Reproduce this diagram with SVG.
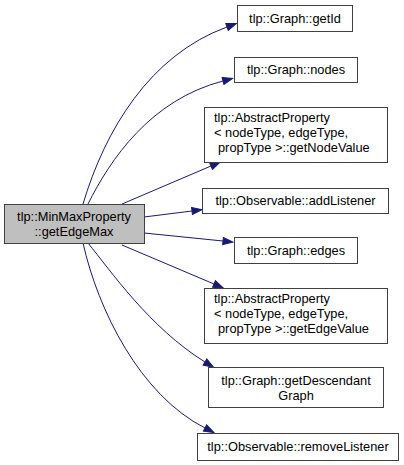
<svg xmlns="http://www.w3.org/2000/svg" width="404" height="465" viewBox="0 0 404 465">
<style>
.box{fill:#ffffff;stroke:#404040;stroke-width:1}
.main{fill:#bfbfbf;stroke:#404040;stroke-width:1}
.t{font-family:"Liberation Sans",Arial,Helvetica,sans-serif;font-size:12.8px;fill:#000000}
.c{text-anchor:middle}
.e{fill:none;stroke:#191970;stroke-width:1}
</style>
<defs>
<marker id="arr" markerUnits="userSpaceOnUse" markerWidth="12" markerHeight="10" refX="0" refY="0" viewBox="0 -5 12 10" orient="auto" overflow="visible">
<path d="M0,-3.6 L10,0 L0,3.6 Z" fill="#191970" stroke="#191970" stroke-width="1"/>
</marker>
</defs>
<rect width="404" height="465" fill="#ffffff"/>
<g id="connectors">
<path class="e" marker-end="url(#arr)" d="M83,204 C105,130 150,55 227,27"/>
<path class="e" marker-end="url(#arr)" d="M88,204 C110,160 150,100 223,81"/>
<path class="e" marker-end="url(#arr)" d="M122,204 L211,166"/>
<path class="e" marker-end="url(#arr)" d="M144,217 L192,211"/>
<path class="e" marker-end="url(#arr)" d="M144,233 L223,241"/>
<path class="e" marker-end="url(#arr)" d="M122,245 L214,284"/>
<path class="e" marker-end="url(#arr)" d="M88,243 C110,270 150,328 205,362"/>
<path class="e" marker-end="url(#arr)" d="M83,243 C98,310 140,395 205,428"/>
</g>
<g id="node-main">
<rect class="main" x="4.5" y="204.5" width="140" height="39"/>
<text class="t c" x="74" y="221">tlp::MinMaxProperty</text>
<text class="t c" x="74" y="236">::getEdgeMax</text>
</g>
<g id="node-getId">
<rect class="box" x="237.5" y="5.5" width="115" height="26"/>
<text class="t c" x="295" y="23">tlp::Graph::getId</text>
</g>
<g id="node-nodes">
<rect class="box" x="234.5" y="57.5" width="123" height="25"/>
<text class="t c" x="296" y="74">tlp::Graph::nodes</text>
</g>
<g id="node-getNodeValue">
<rect class="box" x="204.5" y="107.5" width="183" height="55"/>
<text class="t" x="214" y="122">tlp::AbstractProperty</text>
<text class="t" x="214" y="137">&lt; nodeType, edgeType,</text>
<text class="t" x="218" y="152">propType &gt;::getNodeValue</text>
</g>
<g id="node-addListener">
<rect class="box" x="202.5" y="188.5" width="186" height="25"/>
<text class="t c" x="295.5" y="204.5">tlp::Observable::addListener</text>
</g>
<g id="node-edges">
<rect class="box" x="234.5" y="237.5" width="123" height="26"/>
<text class="t c" x="296" y="254.5">tlp::Graph::edges</text>
</g>
<g id="node-getEdgeValue">
<rect class="box" x="204.5" y="288.5" width="183" height="55"/>
<text class="t" x="214" y="303">tlp::AbstractProperty</text>
<text class="t" x="214" y="318">&lt; nodeType, edgeType,</text>
<text class="t" x="218" y="333">propType &gt;::getEdgeValue</text>
</g>
<g id="node-getDescendantGraph">
<rect class="box" x="208.5" y="367.5" width="175" height="40"/>
<text class="t c" x="296" y="385">tlp::Graph::getDescendant</text>
<text class="t c" x="296" y="400">Graph</text>
</g>
<g id="node-removeListener">
<rect class="box" x="197.5" y="433.5" width="201" height="27"/>
<text class="t c" x="298" y="451">tlp::Observable::removeListener</text>
</g>
</svg>
